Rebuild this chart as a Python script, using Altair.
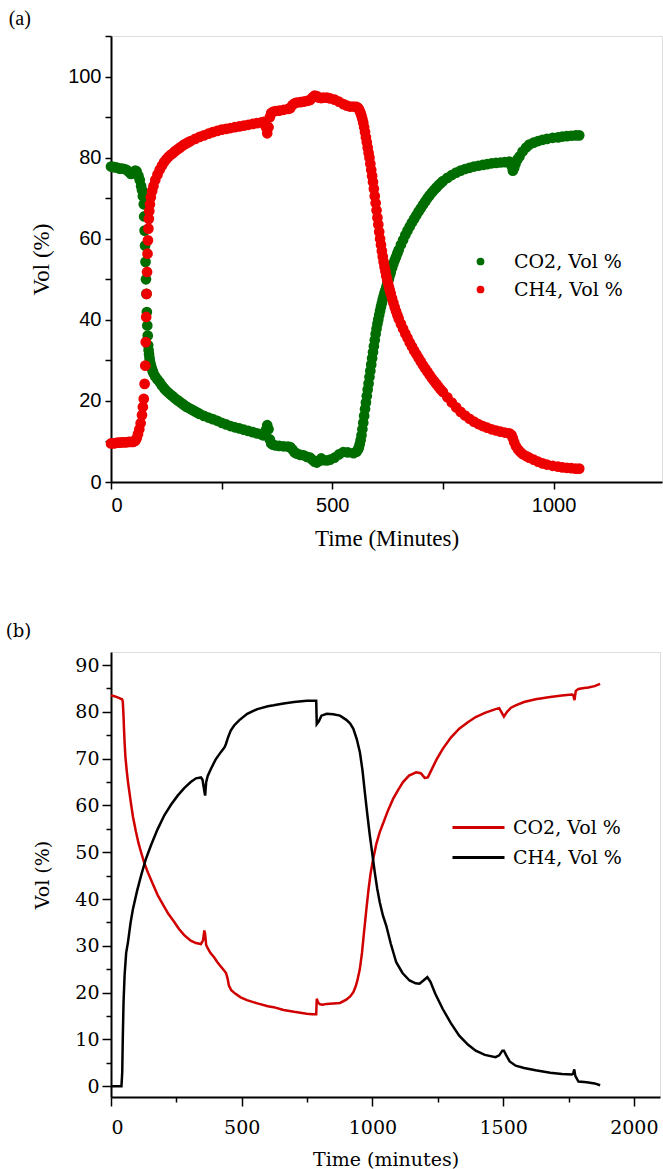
import altair as alt
import pandas as pd

# ---------------- Panel (a) : scatter, (time in minutes, vol %) ----------------
a_co2 = [
    (0, 77.8), (5, 77.7), (10, 77.6), (15, 77.5), (20, 77.3), (25, 77.3), (30, 77.2),
    (35, 77.0), (40, 76.5), (45, 76.0), (50, 76.2), (55, 76.8), (58, 76.6), (62, 75.5),
    (65, 74.5), (68, 73.0), (70, 72.0), (72, 70.5), (74, 68.5), (75, 65.5), (76, 62.0),
    (77, 58.3), (78, 54.3), (79, 50.0), (80, 46.4), (81, 41.9), (82, 38.6), (83, 36.1),
    (84, 33.7), (85, 32.5), (86, 31.5), (87, 30.6), (88, 29.8), (90, 28.9), (92, 28.1),
    (94, 27.4), (96, 26.8), (100, 26.0), (105, 25.3), (110, 24.6), (115, 23.8),
    (120, 23.1), (125, 22.5), (130, 22.0), (135, 21.5), (140, 21.1), (145, 20.6),
    (150, 20.2), (155, 19.8), (160, 19.4), (165, 19.0), (170, 18.6), (175, 18.3),
    (180, 18.0), (185, 17.7), (190, 17.4), (195, 17.1), (200, 16.8), (210, 16.3),
    (220, 15.9), (230, 15.5), (240, 15.1), (250, 14.6), (260, 14.2), (270, 13.8),
    (280, 13.5), (290, 13.2), (300, 12.9), (310, 12.6), (320, 12.3), (330, 12.0),
    (340, 11.7), (345, 11.5), (348, 12.0), (350, 12.8), (353, 14.0), (356, 13.0),
    (359, 10.5), (362, 9.5), (366, 9.2), (372, 9.0), (380, 8.9), (390, 8.8), (400, 8.7),
    (405, 8.6), (410, 8.0), (415, 7.3), (420, 7.0), (428, 6.7), (435, 6.6), (443, 6.2),
    (450, 6.0), (455, 5.5), (460, 5.0), (465, 4.8), (470, 5.2), (475, 5.8), (480, 5.4),
    (488, 5.3), (495, 5.5), (505, 6.0), (515, 6.8), (525, 7.4), (535, 7.3), (548, 7.1),
    (555, 7.5), (558, 8.0), (560, 8.5), (562, 9.3), (564, 10.3), (566, 11.5),
    (568, 13.0), (570, 14.6), (572, 16.3), (574, 18.0), (576, 19.6), (578, 21.2),
    (580, 22.8), (582, 24.3), (584, 25.9), (586, 27.4), (588, 29.0), (590, 30.5),
    (592, 32.0), (594, 33.5), (596, 35.0), (598, 36.5), (600, 37.8), (602, 39.0),
    (604, 40.1), (606, 41.2), (608, 42.2), (610, 43.2), (612, 44.1), (614, 45.0),
    (616, 45.8), (618, 46.6), (620, 47.3), (622, 48.0), (624, 48.8), (626, 49.5),
    (628, 50.2), (630, 51.0), (632, 51.7), (635, 52.8), (638, 53.8), (641, 54.7),
    (644, 55.5), (647, 56.4), (650, 57.2), (655, 58.5), (660, 59.7), (665, 60.9),
    (670, 62.0), (675, 63.0), (680, 64.0), (685, 64.9), (690, 65.8), (695, 66.7),
    (700, 67.5), (705, 68.4), (710, 69.2), (715, 70.0), (720, 70.7), (725, 71.4),
    (730, 72.0), (735, 72.6), (740, 73.2), (745, 73.7), (750, 74.2), (760, 75.0),
    (770, 75.7), (780, 76.3), (790, 76.8), (800, 77.2), (810, 77.5), (820, 77.8),
    (830, 78.0), (840, 78.2), (850, 78.4), (860, 78.6), (870, 78.7), (880, 78.8),
    (890, 78.9), (900, 79.0), (905, 78.0), (908, 76.8), (911, 77.5), (914, 78.5),
    (918, 79.5), (923, 80.3), (930, 81.5), (938, 82.5), (945, 83.2), (955, 83.7),
    (965, 84.1), (975, 84.4), (985, 84.6), (998, 84.9), (1010, 85.0), (1020, 85.2),
    (1030, 85.3), (1040, 85.4), (1050, 85.5), (1058, 85.5),
]

a_ch4 = [
    (0, 9.5), (5, 9.5), (10, 9.6), (15, 9.7), (20, 9.7), (25, 9.8), (30, 9.8),
    (35, 9.8), (40, 9.9), (45, 9.9), (50, 9.9), (55, 10.2), (58, 10.8), (61, 11.8),
    (64, 13.0), (67, 14.5), (70, 16.5), (72, 18.5), (74, 20.5), (76, 24.2),
    (77.5, 28.7), (78.5, 34.5), (79.5, 40.7), (80.5, 46.4), (81.5, 51.8), (82.5, 56.3),
    (83.5, 59.6), (84.5, 62.5), (85.5, 64.9), (86.5, 66.8), (88, 68.5), (90, 70.2),
    (93, 71.8), (96, 73.0), (100, 74.5), (105, 75.8), (110, 77.0), (115, 78.0),
    (120, 78.9), (125, 79.6), (130, 80.2), (135, 80.7), (140, 81.1), (145, 81.6),
    (150, 82.0), (155, 82.4), (160, 82.8), (165, 83.2), (170, 83.5), (175, 83.8),
    (180, 84.1), (190, 84.6), (200, 85.1), (210, 85.5), (220, 85.9), (230, 86.3),
    (240, 86.6), (250, 86.9), (260, 87.1), (270, 87.3), (280, 87.5), (290, 87.7),
    (300, 87.9), (310, 88.1), (320, 88.3), (330, 88.5), (340, 88.7), (345, 88.8),
    (348, 88.3), (350, 87.5), (353, 86.0), (356, 87.5), (359, 90.0), (362, 91.0),
    (366, 91.3), (372, 91.5), (380, 91.6), (390, 91.8), (400, 92.0), (405, 92.2),
    (410, 93.0), (415, 93.4), (420, 93.6), (428, 93.7), (435, 93.8), (443, 94.0),
    (450, 94.2), (455, 94.8), (460, 95.3), (465, 95.2), (470, 94.8), (475, 94.7),
    (480, 94.8), (488, 94.8), (495, 94.6), (505, 94.3), (515, 93.8), (525, 93.2),
    (533, 92.8), (540, 92.6), (548, 92.6), (555, 92.5), (558, 92.3), (560, 92.0),
    (562, 91.5), (564, 91.0), (566, 90.3), (568, 89.5), (570, 88.6), (572, 87.5),
    (574, 86.3), (576, 85.0), (578, 83.8), (580, 82.5), (582, 81.2), (584, 80.0),
    (586, 78.5), (588, 77.0), (590, 75.5), (592, 74.0), (594, 72.3), (596, 70.5),
    (598, 68.8), (600, 67.0), (602, 65.2), (604, 63.5), (606, 61.7), (608, 60.0),
    (610, 58.5), (612, 57.0), (614, 55.6), (616, 54.3), (618, 53.1), (620, 52.0),
    (622, 50.8), (624, 49.9), (626, 49.0), (628, 48.1), (630, 47.3), (632, 46.5),
    (635, 45.3), (638, 44.2), (641, 43.1), (644, 42.1), (647, 41.2), (650, 40.3),
    (655, 39.0), (660, 37.8), (665, 36.6), (670, 35.5), (675, 34.4), (680, 33.4),
    (685, 32.4), (690, 31.5), (695, 30.6), (700, 29.7), (705, 28.8), (710, 28.0),
    (715, 27.2), (720, 26.4), (725, 25.6), (730, 24.9), (735, 24.2), (740, 23.5),
    (745, 22.8), (750, 22.2), (760, 20.9), (770, 19.6), (780, 18.4), (790, 17.3),
    (800, 16.4), (810, 15.6), (820, 14.9), (830, 14.3), (840, 13.8), (850, 13.4),
    (860, 13.0), (870, 12.7), (880, 12.4), (890, 12.2), (900, 12.0), (905, 11.6),
    (908, 10.8), (911, 9.8), (915, 8.8), (920, 8.0), (925, 7.4), (930, 6.9),
    (938, 6.4), (945, 6.0), (955, 5.5), (965, 5.0), (975, 4.6), (985, 4.3),
    (998, 4.0), (1010, 3.8), (1020, 3.6), (1030, 3.5), (1040, 3.4), (1050, 3.3),
    (1058, 3.3),
]

# ---------------- Panel (b) : lines, (time in minutes, vol %) ----------------
b_co2 = [
    (0, 83.5), (10, 83.4), (20, 83.2), (30, 83.0), (38, 82.8), (42, 82.7), (45, 82.3),
    (48, 79.0), (50, 76.0), (52, 73.5), (55, 70.5), (60, 67.5), (65, 65.0), (70, 63.0),
    (75, 61.0), (84, 57.6), (95, 54.5), (105, 52.0), (115, 50.0), (128, 47.6),
    (141, 45.7), (160, 43.2), (179, 40.8), (200, 38.7), (220, 36.8), (242, 35.1),
    (260, 33.6), (280, 32.3), (305, 31.1), (325, 30.6), (344, 30.4), (352, 31.2),
    (357, 33.3), (360, 32.5), (364, 30.2), (370, 29.5), (380, 28.5), (395, 27.5),
    (407, 26.5), (420, 25.6), (432, 24.8), (440, 24.2), (446, 23.0), (451, 21.5),
    (460, 20.5), (475, 19.8), (496, 19.0), (520, 18.4), (560, 17.7), (600, 17.1),
    (622, 16.9), (660, 16.3), (700, 15.9), (749, 15.5), (770, 15.4), (785, 15.4),
    (787, 18.7), (792, 17.9), (800, 17.5), (810, 17.4), (825, 17.6), (850, 17.7),
    (876, 17.8), (900, 18.5), (915, 19.2), (927, 20.1), (935, 21.2), (942, 22.5),
    (952, 25.1), (960, 28.5), (968, 33.0), (977, 37.9), (985, 42.0), (993, 45.5),
    (1003, 48.6), (1015, 51.8), (1028, 54.3), (1041, 56.2), (1060, 59.0),
    (1079, 61.4), (1098, 63.3), (1117, 65.0), (1140, 66.4), (1167, 67.1),
    (1185, 66.9), (1200, 65.9), (1212, 66.0), (1225, 67.5), (1245, 69.8),
    (1269, 72.1), (1300, 74.5), (1332, 76.4), (1365, 77.8), (1395, 78.9),
    (1430, 79.8), (1471, 80.6), (1485, 80.8), (1495, 79.8), (1503, 79.0),
    (1515, 80.0), (1530, 80.9), (1548, 81.4), (1580, 82.1), (1624, 82.7),
    (1680, 83.2), (1725, 83.5), (1763, 83.7), (1768, 83.6), (1773, 82.5),
    (1778, 84.5), (1788, 84.9), (1810, 85.1), (1826, 85.2), (1850, 85.5), (1871, 86.0),
]

b_ch4 = [
    (0, 0.0), (20, 0.0), (40, 0.0), (43, 3.0), (45, 10.0), (48, 18.0), (52, 23.7),
    (58, 28.5), (65, 30.8), (75, 35.0), (84, 37.9), (100, 41.8), (115, 45.0),
    (133, 48.5), (153, 51.5), (178, 54.9), (204, 57.9), (230, 60.2), (255, 62.1),
    (280, 63.7), (305, 65.0), (325, 65.8), (344, 66.0), (350, 65.5), (355, 63.8),
    (360, 62.1), (364, 65.0), (370, 66.3), (382, 67.8), (400, 69.8), (420, 71.4),
    (430, 72.1), (435, 72.5), (440, 73.2), (448, 74.6), (458, 76.0), (471, 77.1),
    (490, 78.2), (521, 79.6), (560, 80.6), (600, 81.2), (622, 81.4), (660, 81.8),
    (700, 82.1), (749, 82.4), (785, 82.4), (787, 77.4), (795, 78.0), (805, 79.2),
    (825, 79.6), (850, 79.5), (876, 79.2), (900, 78.3), (915, 77.5), (927, 76.4),
    (940, 74.2), (952, 71.4), (962, 67.5), (971, 62.8), (980, 58.3), (990, 53.6),
    (1000, 49.5), (1009, 45.7), (1018, 42.3), (1028, 39.3), (1040, 36.5),
    (1053, 34.3), (1070, 30.5), (1091, 26.5), (1115, 24.2), (1142, 22.6),
    (1165, 22.0), (1180, 21.9), (1195, 22.6), (1210, 23.3), (1222, 22.3),
    (1240, 19.8), (1269, 16.5), (1300, 13.5), (1332, 10.8), (1365, 8.9),
    (1395, 7.6), (1430, 6.7), (1471, 6.2), (1485, 6.6), (1497, 7.6), (1503, 7.6),
    (1512, 6.6), (1525, 5.3), (1548, 4.4), (1580, 3.9), (1624, 3.4), (1680, 2.9),
    (1725, 2.6), (1763, 2.5), (1768, 2.7), (1772, 3.6), (1776, 2.2), (1788, 1.0),
    (1810, 0.9), (1826, 0.8), (1850, 0.6), (1871, 0.2),
]

series_names = ["CO2, Vol %", "CH4, Vol %"]
a_colors = ["#006d00", "#ee0000"]
b_colors = ["#d10000", "#000000"]


def frame(pairs, name, k):
    return pd.DataFrame({"t": [p[0] for p in pairs], "v": [p[1] for p in pairs],
                         "s": name, "k": k})


df_a = pd.concat([frame(a_co2, series_names[0], 0),
                  frame(a_ch4, series_names[1], 1)], ignore_index=True)
df_b = pd.concat([frame(b_co2, series_names[0], 0),
                  frame(b_ch4, series_names[1], 1)], ignore_index=True)

SERIF_A = "Liberation Serif"
SERIF_B = "DejaVu Serif"
SANS = "Liberation Sans"

common_axis = dict(domainWidth=2, tickWidth=1.5, domainColor="black",
                   tickColor="black", labelColor="black", titleColor="black",
                   grid=False, titleFontWeight="normal")

top = alt.Chart(df_a, title=alt.TitleParams(
    "(a)", anchor="start", frame="bounds", font=SERIF_A, fontSize=20,
    fontWeight="normal", dx=-22, offset=6, color="black")).mark_circle(
    size=115, opacity=1).encode(
    x=alt.X("t:Q", scale=alt.Scale(domain=[0, 1245], nice=False, zero=False),
            axis=alt.Axis(values=[0, 250, 500, 750, 1000], title="Time (Minutes)",
                          format="d",
                          labelExpr="datum.value % 500 == 0 ? datum.label : ''",
                          labelFont=SANS, labelFontSize=20, titleFont=SERIF_A,
                          titleFontSize=23, tickSize=7, labelPadding=6,
                          titlePadding=12, **common_axis)),
    y=alt.Y("v:Q", scale=alt.Scale(domain=[0, 110], nice=False, zero=False),
            axis=alt.Axis(values=list(range(0, 111, 10)), title="Vol (%)",
                          format="d",
                          labelExpr="datum.value % 20 == 0 ? datum.label : ''",
                          labelFont=SANS, labelFontSize=20, titleFont=SERIF_A,
                          titleFontSize=23, tickSize=6, labelPadding=4,
                          titlePadding=14, **common_axis)),
    color=alt.Color("s:N", scale=alt.Scale(domain=series_names, range=a_colors),
                    legend=alt.Legend(title=None, orient="none", legendX=360,
                                      legendY=216, symbolType="circle",
                                      symbolSize=60, labelFont=SERIF_B,
                                      labelFontSize=19, labelOffset=24,
                                      rowPadding=8, padding=0, labelColor="black")),
    order=alt.Order("k:Q"),
).properties(width=551, height=446)

bot = alt.Chart(df_b, title=alt.TitleParams(
    "(b)", anchor="start", frame="bounds", font=SERIF_B, fontSize=18,
    fontWeight="normal", dx=-28, offset=11, color="black")).mark_line(
    strokeWidth=2.5).encode(
    x=alt.X("t:Q", scale=alt.Scale(domain=[0, 2100], nice=False, zero=False),
            axis=alt.Axis(values=list(range(0, 2001, 250)), title="Time (minutes)",
                          format="d",
                          labelExpr="datum.value % 500 == 0 ? datum.label : ''",
                          labelFont=SERIF_B, labelFontSize=19, titleFont=SERIF_B,
                          titleFontSize=19,
                          tickSize={"condition": {"test": "datum.value % 500 == 0", "value": 9}, "value": 5},
                          labelPadding=12, titlePadding=13, **common_axis)),
    y=alt.Y("v:Q", scale=alt.Scale(domain=[-2.3, 92.8], nice=False, zero=False),
            axis=alt.Axis(values=list(range(0, 91, 5)), title="Vol (%)",
                          format="d",
                          labelExpr="datum.value % 10 == 0 ? datum.label : ''",
                          labelFont=SERIF_B, labelFontSize=19, titleFont=SERIF_B,
                          titleFontSize=19,
                          tickSize={"condition": {"test": "datum.value % 10 == 0", "value": 9}, "value": 5},
                          labelPadding=3, titlePadding=22, **common_axis)),
    color=alt.Color("s:N", scale=alt.Scale(domain=series_names, range=b_colors),
                    legend=alt.Legend(title=None, orient="none", legendX=356,
                                      legendY=164, symbolType="M-2.6,0H2.6",
                                      symbolSize=400, symbolStrokeWidth=3,
                                      labelFont=SERIF_B, labelFontSize=19,
                                      labelOffset=23, rowPadding=8, padding=0,
                                      labelColor="black")),
    order=alt.Order("k:Q"),
).properties(width=549, height=445)

chart = alt.vconcat(top, bot, spacing=71).resolve_scale(
    color="independent"
).resolve_legend(color="independent").properties(
    padding={"top": 8, "left": 5, "right": 0, "bottom": 0}
).configure_view(stroke=None).configure(background="white")

chart.save("out.html", embed_options={"renderer": "svg", "actions": False})
